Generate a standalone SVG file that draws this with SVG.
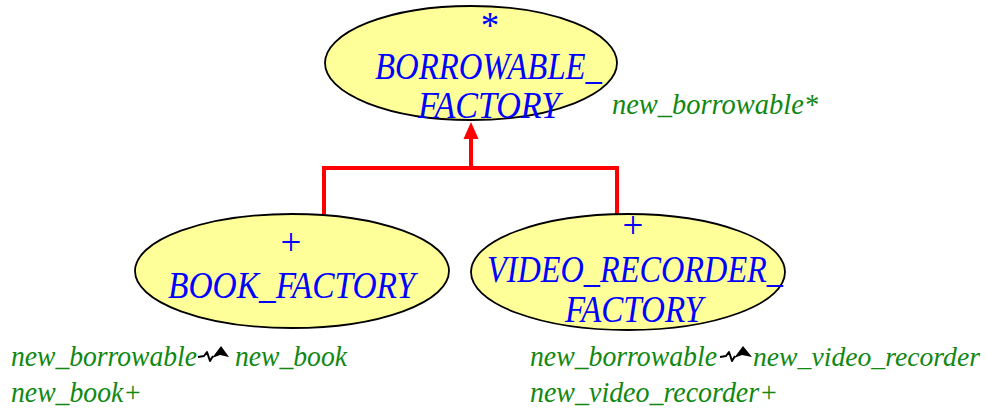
<svg xmlns="http://www.w3.org/2000/svg" width="987" height="410" viewBox="0 0 987 410">
  <style>
    .cls { fill: #FFFF99; stroke: #000000; stroke-width: 1.8; }
    .name { font-family: "Liberation Serif", "Times New Roman", serif; font-style: italic; font-size: 38px; fill: #0000FF; }
    .mark { font-family: "Liberation Serif", "Times New Roman", serif; font-size: 37px; fill: #0000FF; text-anchor: middle; }
    .feat { font-family: "Liberation Serif", "Times New Roman", serif; font-style: italic; font-size: 30px; fill: #118811; }
    .feat-tight { font-size: 28px; }
    .inherit { fill: none; stroke: #FF0000; stroke-width: 4; }
    .rename { fill: none; stroke: #000000; stroke-width: 2; stroke-linejoin: round; }
  </style>

  <rect x="0" y="0" width="987" height="410" fill="#FFFFFF"/>

  <!-- inheritance links -->
  <g id="connectors">
    <path class="inherit" d="M324,214 L324,168 L617,168 L617,214"/>
    <path class="inherit" d="M471,168 L471,136"/>
    <polygon points="463.5,139 471,122 478.5,139" fill="#FF0000"/>
  </g>

  <!-- deferred parent class -->
  <g id="borrowable_factory">
    <ellipse class="cls" cx="471" cy="63" rx="146" ry="57"/>
    <text class="mark" x="490" y="38">*</text>
    <text class="name" x="375" y="79" textLength="227" lengthAdjust="spacingAndGlyphs">BORROWABLE_</text>
    <text class="name" x="418" y="118" textLength="142" lengthAdjust="spacingAndGlyphs">FACTORY</text>
    <text class="feat" x="612" y="114" textLength="206" lengthAdjust="spacingAndGlyphs">new_borrowable*</text>
  </g>

  <!-- effective heirs -->
  <g id="book_factory">
    <ellipse class="cls" cx="292" cy="271" rx="157" ry="57"/>
    <text class="mark" x="291" y="255">+</text>
    <text class="name" x="168" y="298" textLength="247" lengthAdjust="spacingAndGlyphs">BOOK_FACTORY</text>
    <text class="feat" x="11" y="366" textLength="186" lengthAdjust="spacingAndGlyphs">new_borrowable</text>
    <path class="rename" d="M198,357 L204,356 L207,352 L210,361 L213,356"/>
    <path d="M212,358 L221,346 L229,357 L220,355 Z" fill="#000000"/>
    <text class="feat" x="235" y="366" textLength="112" lengthAdjust="spacingAndGlyphs">new_book</text>
    <text class="feat" x="11" y="402" textLength="131" lengthAdjust="spacingAndGlyphs">new_book+</text>
  </g>

  <g id="video_recorder_factory">
    <ellipse class="cls" cx="628" cy="272" rx="157" ry="58"/>
    <text class="mark" x="633" y="238">+</text>
    <text class="name" x="487" y="282" textLength="296" lengthAdjust="spacingAndGlyphs">VIDEO_RECORDER_</text>
    <text class="name" x="565" y="322" textLength="138" lengthAdjust="spacingAndGlyphs">FACTORY</text>
    <text class="feat" x="530" y="366" textLength="187" lengthAdjust="spacingAndGlyphs">new_borrowable</text>
    <path class="rename" d="M720,357 L726,356 L729,352 L732,361 L735,356"/>
    <path d="M734,358 L743,346 L752,357 L742,355 Z" fill="#000000"/>
    <text class="feat feat-tight" x="753" y="366" textLength="227" lengthAdjust="spacingAndGlyphs">new_video_recorder</text>
    <text class="feat" x="530" y="402" textLength="248" lengthAdjust="spacingAndGlyphs">new_video_recorder+</text>
  </g>
</svg>
